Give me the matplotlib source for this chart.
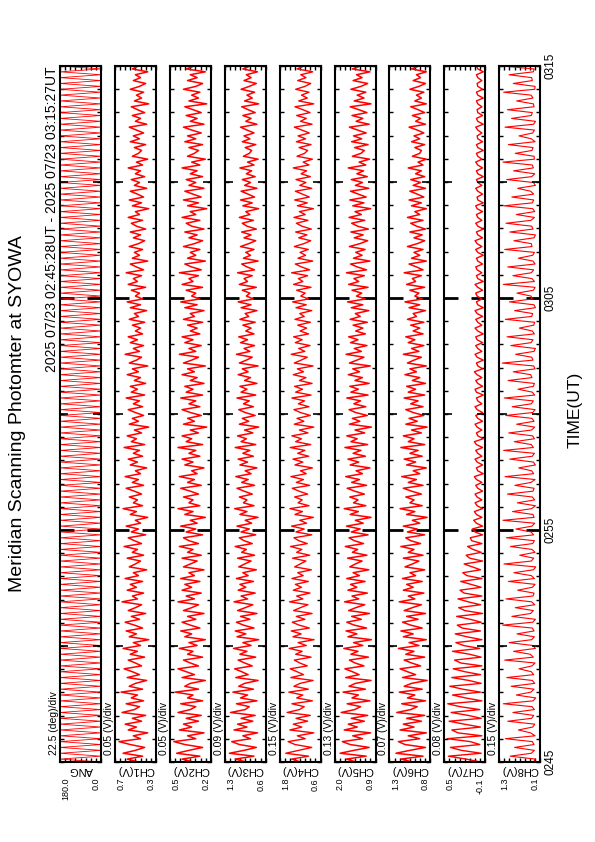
import numpy as np
import matplotlib
matplotlib.use("Agg")
import matplotlib.pyplot as plt
import matplotlib.transforms as mtransforms
from matplotlib.ticker import FixedLocator, MultipleLocator

plt.rcParams["font.family"] = ["Liberation Sans", "DejaVu Sans"]

# === data (minutes after 02:45 UT run along each panel) ===
panel_names = ["ANG", "CH1(V)", "CH2(V)", "CH3(V)", "CH4(V)", "CH5(V)", "CH6(V)", "CH7(V)", "CH8(V)"]
div_labels = ["22.5 (deg)/div", "0.05 (V)/div", "0.05 (V)/div", "0.09 (V)/div", "0.15 (V)/div",
              "0.13 (V)/div", "0.07 (V)/div", "0.08 (V)/div", "0.15 (V)/div"]
range_lo = ["0.0", "0.3", "0.2", "0.6", "0.6", "0.9", "0.8", "-0.1", "0.1"]
range_hi = ["180.0", "0.7", "0.5", "1.3", "1.8", "2.0", "1.3", "0.5", "1.3"]
time_labels = ["0245", "0255", "0305", "0315"]
time_ticks = [0, 10, 20, 30]

# scan angle: one sweep 0 -> 180 deg, repeated by the photometer
ang_scan = [0.0, 180.0]
n_scans = 120

ch1 = [0.47,0.58,0.43,0.62,0.50,0.41,0.55,0.66,0.45,0.52,0.38,0.57,0.49,0.60,0.44,0.53,0.40,0.63,0.51,0.46,0.59,0.42,0.54,0.48,0.64,0.43,0.56,0.50,0.39,0.58,
       0.46,0.53,0.61,0.44,0.50,0.57,0.41,0.55,0.48,0.62,0.45,0.52,0.37,0.56,0.49,0.59,0.43,0.51,0.60,0.46,0.54,0.40,0.57,0.50,0.44,0.63,0.48,0.53,0.42,0.58,
       0.49,0.55,0.43,0.60,0.47,0.52,0.39,0.56,0.50,0.45,0.58,0.42,0.53,0.48,0.61,0.44,0.51,0.57,0.40,0.54,0.47,0.59,0.45,0.50,0.38,0.55,0.49,0.62,0.43,0.52,
       0.48,0.56,0.44,0.51,0.59,0.42,0.53,0.47,0.60,0.45,0.50,0.39,0.55,0.48,0.57,0.43,0.52,0.46,0.61,0.41,0.54,0.49,0.58,0.44,0.51,0.37,0.56,0.47,0.53,0.42,
       0.50,0.57,0.43,0.52,0.46,0.59,0.41,0.54,0.48,0.55,0.40,0.51,0.45,0.58,0.47,0.53,0.38,0.56,0.49,0.44,0.60,0.46,0.52,0.42,0.55,0.48,0.57,0.43,0.50,0.45,
       0.53,0.41,0.56,0.47,0.51,0.39,0.55,0.45,0.58,0.43,0.50,0.46,0.54,0.40,0.57,0.48,0.52,0.44,0.59,0.42,0.49,0.55,0.38,0.53,0.46,0.51,0.43,0.56,0.47,0.41,
       0.52,0.45,0.55,0.40,0.49,0.54,0.43,0.57,0.46,0.50,0.37,0.53,0.44,0.56,0.42,0.48,0.55,0.39,0.51,0.46,0.54,0.41,0.50,0.45,0.57,0.43,0.49,0.38,0.53,0.47,
       0.44,0.51,0.40,0.55,0.46,0.52,0.42,0.49,0.56,0.39,0.50,0.45,0.53,0.41,0.48,0.54,0.37,0.51,0.44,0.49,0.42,0.55,0.46,0.40,0.52,0.45,0.50,0.38,0.53,0.47]
ch2 = [0.33,0.41,0.28,0.45,0.36,0.26,0.39,0.47,0.31,0.37,0.25,0.43,0.34,0.40,0.29,0.38,0.27,0.44,0.35,0.31,0.42,0.26,0.37,0.33,0.46,0.29,0.39,0.35,0.24,0.41,
       0.32,0.38,0.44,0.29,0.35,0.40,0.26,0.37,0.33,0.43,0.30,0.36,0.24,0.39,0.34,0.42,0.28,0.35,0.41,0.31,0.37,0.25,0.40,0.34,0.29,0.44,0.32,0.38,0.27,0.41,
       0.34,0.39,0.28,0.42,0.32,0.36,0.25,0.40,0.35,0.30,0.41,0.27,0.37,0.33,0.43,0.29,0.36,0.40,0.26,0.38,0.31,0.42,0.30,0.35,0.24,0.39,0.33,0.44,0.28,0.36,
       0.33,0.40,0.29,0.35,0.42,0.27,0.37,0.32,0.43,0.30,0.34,0.25,0.39,0.33,0.41,0.28,0.36,0.31,0.44,0.26,0.38,0.34,0.41,0.29,0.35,0.23,0.40,0.32,0.37,0.27,
       0.35,0.41,0.28,0.36,0.31,0.42,0.26,0.38,0.33,0.39,0.25,0.35,0.30,0.41,0.32,0.37,0.24,0.40,0.34,0.29,0.43,0.31,0.36,0.27,0.39,0.33,0.41,0.28,0.35,0.30,
       0.37,0.26,0.40,0.32,0.35,0.25,0.39,0.30,0.42,0.28,0.34,0.31,0.38,0.26,0.41,0.33,0.36,0.29,0.43,0.27,0.34,0.39,0.24,0.37,0.31,0.35,0.28,0.40,0.32,0.26,
       0.36,0.30,0.39,0.25,0.34,0.38,0.28,0.41,0.31,0.35,0.23,0.37,0.29,0.40,0.27,0.33,0.39,0.25,0.36,0.31,0.38,0.26,0.35,0.30,0.41,0.28,0.34,0.24,0.37,0.32,
       0.29,0.36,0.26,0.39,0.31,0.37,0.27,0.34,0.40,0.25,0.35,0.30,0.38,0.27,0.33,0.39,0.23,0.36,0.29,0.34,0.28,0.40,0.31,0.26,0.37,0.30,0.35,0.24,0.38,0.32]
ch3 = [0.93,1.12,0.80,1.22,0.97,0.76,1.05,1.18,0.86,0.99,0.74,1.14,0.92,1.08,0.82,1.02,0.78,1.20,0.95,0.88,1.10,0.75,1.03,0.91,1.16,0.81,1.06,0.96,0.73,1.11,
       0.90,1.01,1.13,0.83,0.96,1.07,0.77,1.04,0.92,1.15,0.85,0.99,0.72,1.09,0.94,1.12,0.80,0.98,1.10,0.87,1.03,0.75,1.08,0.95,0.82,1.14,0.91,1.02,0.78,1.07,
       0.94,1.04,0.81,1.10,0.90,0.99,0.76,1.06,0.96,0.85,1.08,0.79,1.01,0.93,1.12,0.83,0.97,1.05,0.77,1.02,0.88,1.09,0.84,0.95,0.73,1.04,0.92,1.13,0.80,0.98,
       0.92,1.05,0.83,0.97,1.09,0.79,1.01,0.90,1.11,0.85,0.95,0.75,1.04,0.91,1.07,0.81,0.99,0.87,1.12,0.77,1.02,0.93,1.08,0.82,0.96,0.72,1.05,0.89,1.00,0.78,
       0.95,1.06,0.81,0.98,0.88,1.09,0.77,1.02,0.92,1.04,0.75,0.96,0.86,1.07,0.90,1.00,0.73,1.05,0.93,0.83,1.10,0.87,0.97,0.79,1.03,0.91,1.06,0.80,0.94,0.85,
       0.99,0.78,1.04,0.89,0.95,0.75,1.02,0.85,1.07,0.81,0.93,0.87,1.00,0.76,1.05,0.91,0.97,0.83,1.08,0.79,0.92,1.01,0.73,0.98,0.86,0.94,0.80,1.03,0.89,0.77,
       0.97,0.85,1.01,0.76,0.92,1.00,0.81,1.05,0.87,0.94,0.72,0.99,0.83,1.03,0.79,0.90,1.02,0.75,0.96,0.86,1.00,0.78,0.93,0.84,1.04,0.80,0.91,0.73,0.98,0.88,
       0.84,0.95,0.77,1.00,0.87,0.97,0.80,0.92,1.03,0.75,0.94,0.85,0.99,0.78,0.90,1.01,0.72,0.96,0.83,0.92,0.79,1.02,0.88,0.76,0.97,0.85,0.93,0.74,0.99,0.86]
ch4 = [1.18,1.45,0.95,1.62,1.24,0.86,1.35,1.55,1.05,1.28,0.80,1.50,1.15,1.40,0.98,1.32,0.90,1.58,1.22,1.08,1.44,0.84,1.30,1.12,1.53,0.96,1.38,1.20,0.82,1.47,
       1.10,1.29,1.49,0.99,1.21,1.37,0.88,1.33,1.14,1.52,1.02,1.26,0.79,1.41,1.17,1.46,0.93,1.23,1.43,1.06,1.31,0.85,1.39,1.19,0.97,1.51,1.12,1.30,0.91,1.40,
       1.16,1.34,0.96,1.44,1.11,1.27,0.87,1.36,1.20,1.03,1.42,0.92,1.30,1.15,1.48,0.99,1.24,1.38,0.86,1.32,1.08,1.45,1.01,1.21,0.81,1.35,1.13,1.50,0.94,1.26,
       1.14,1.36,0.98,1.23,1.43,0.92,1.31,1.10,1.47,1.02,1.19,0.84,1.35,1.12,1.41,0.95,1.27,1.06,1.49,0.89,1.33,1.16,1.44,0.97,1.22,0.80,1.37,1.09,1.29,0.90,
       1.19,1.38,0.94,1.25,1.07,1.44,0.88,1.33,1.13,1.36,0.85,1.22,1.03,1.40,1.10,1.28,0.82,1.37,1.17,0.99,1.46,1.06,1.24,0.91,1.34,1.14,1.39,0.95,1.20,1.01,
       1.27,0.90,1.35,1.08,1.21,0.86,1.32,1.02,1.42,0.95,1.18,1.05,1.30,0.88,1.39,1.12,1.25,0.98,1.45,0.92,1.16,1.34,0.83,1.26,1.04,1.20,0.96,1.37,1.09,0.89,
       1.24,1.00,1.33,0.87,1.15,1.31,0.97,1.38,1.05,1.22,0.81,1.28,0.99,1.36,0.93,1.13,1.34,0.86,1.21,1.03,1.32,0.90,1.17,1.01,1.40,0.94,1.11,0.84,1.29,1.07,
       0.98,1.23,0.88,1.31,1.04,1.26,0.93,1.15,1.37,0.85,1.19,1.02,1.30,0.91,1.12,1.35,0.80,1.24,0.99,1.16,0.94,1.33,1.06,0.89,1.27,1.03,1.18,0.83,1.29,1.08]
ch5 = [1.42,1.68,1.15,1.85,1.48,1.07,1.58,1.79,1.25,1.51,1.03,1.74,1.39,1.63,1.20,1.55,1.11,1.82,1.46,1.30,1.66,1.05,1.53,1.36,1.77,1.17,1.61,1.44,1.02,1.70,
       1.34,1.52,1.72,1.21,1.45,1.60,1.09,1.56,1.37,1.75,1.24,1.49,1.01,1.64,1.40,1.69,1.14,1.47,1.67,1.28,1.54,1.06,1.62,1.43,1.19,1.73,1.35,1.53,1.12,1.64,
       1.40,1.57,1.18,1.67,1.33,1.50,1.08,1.59,1.44,1.26,1.65,1.13,1.52,1.38,1.71,1.22,1.47,1.61,1.10,1.55,1.31,1.68,1.23,1.44,1.02,1.58,1.36,1.74,1.16,1.49,
       1.37,1.59,1.20,1.46,1.66,1.14,1.54,1.33,1.70,1.25,1.42,1.05,1.58,1.35,1.64,1.17,1.50,1.29,1.72,1.11,1.56,1.39,1.67,1.19,1.45,1.01,1.60,1.32,1.52,1.12,
       1.43,1.61,1.16,1.48,1.30,1.67,1.10,1.56,1.36,1.59,1.07,1.45,1.25,1.63,1.33,1.51,1.04,1.60,1.40,1.21,1.69,1.28,1.47,1.13,1.57,1.37,1.62,1.17,1.43,1.24,
       1.50,1.12,1.58,1.31,1.44,1.08,1.55,1.24,1.65,1.17,1.41,1.27,1.53,1.10,1.62,1.35,1.48,1.20,1.68,1.14,1.39,1.57,1.05,1.49,1.26,1.43,1.18,1.60,1.32,1.11,
       1.47,1.23,1.56,1.09,1.38,1.54,1.19,1.61,1.28,1.45,1.03,1.51,1.21,1.59,1.15,1.36,1.57,1.08,1.44,1.25,1.55,1.12,1.40,1.22,1.63,1.16,1.34,1.06,1.52,1.29,
       1.20,1.46,1.10,1.54,1.27,1.49,1.15,1.38,1.60,1.07,1.42,1.24,1.53,1.13,1.35,1.58,1.02,1.47,1.21,1.39,1.16,1.56,1.29,1.11,1.50,1.26,1.41,1.05,1.52,1.30]
ch6 = [1.02,1.16,0.89,1.22,1.05,0.86,1.11,1.19,0.93,1.07,0.85,1.17,1.00,1.13,0.91,1.09,0.87,1.21,1.04,0.96,1.15,0.86,1.08,0.99,1.18,0.90,1.12,1.03,0.84,1.14,
       0.98,1.08,1.17,0.92,1.03,1.12,0.87,1.10,1.00,1.19,0.94,1.06,0.85,1.13,1.01,1.16,0.90,1.04,1.14,0.95,1.09,0.86,1.12,1.02,0.91,1.18,0.99,1.07,0.88,1.13,
       1.01,1.09,0.90,1.14,0.98,1.05,0.87,1.11,1.02,0.94,1.13,0.89,1.07,1.00,1.16,0.92,1.04,1.10,0.87,1.08,0.96,1.13,0.93,1.02,0.84,1.09,0.99,1.17,0.90,1.05,
       1.00,1.10,0.91,1.03,1.13,0.89,1.07,0.97,1.15,0.93,1.01,0.85,1.09,0.98,1.12,0.90,1.05,0.95,1.16,0.87,1.07,1.00,1.13,0.91,1.03,0.84,1.10,0.96,1.06,0.88,
       1.01,1.10,0.89,1.04,0.95,1.12,0.87,1.07,0.98,1.09,0.86,1.02,0.93,1.11,0.97,1.05,0.85,1.08,1.00,0.91,1.13,0.94,1.03,0.88,1.07,0.99,1.10,0.89,1.01,0.93,
       1.04,0.88,1.08,0.97,1.01,0.86,1.06,0.93,1.11,0.90,0.99,0.94,1.05,0.87,1.09,0.98,1.02,0.91,1.12,0.89,0.97,1.06,0.85,1.03,0.93,1.00,0.89,1.08,0.96,0.87,
       1.00,0.90,1.05,0.86,0.97,1.04,0.89,1.08,0.93,0.99,0.85,1.03,0.91,1.06,0.88,0.96,1.05,0.86,1.01,0.92,1.04,0.87,0.98,0.91,1.07,0.89,0.95,0.85,1.02,0.93,
       0.91,0.99,0.87,1.03,0.93,1.00,0.88,0.96,1.06,0.86,0.98,0.92,1.02,0.87,0.95,1.04,0.85,0.99,0.91,0.97,0.88,1.05,0.94,0.86,1.01,0.92,0.97,0.85,1.03,0.94]
ch7 = [-0.03,0.18,0.44,-0.04,0.25,0.41,-0.02,0.12,0.46,-0.05,0.30,0.39,-0.03,0.21,0.43,-0.04,0.15,0.40,-0.02,0.27,0.45,-0.05,0.19,0.38,-0.03,0.23,0.42,-0.04,0.14,0.39,
       -0.03,0.20,0.37,-0.05,0.26,0.35,-0.04,0.13,0.38,-0.02,0.22,0.33,-0.05,0.17,0.34,-0.03,0.24,0.31,-0.04,0.12,0.32,-0.06,0.20,0.29,-0.03,0.15,0.30,-0.05,0.21,0.27,
       -0.04,0.11,0.26,-0.05,0.17,0.23,-0.03,0.09,0.21,-0.06,0.13,0.18,-0.04,0.08,0.16,-0.05,0.10,0.12,-0.06,0.05,0.09,-0.06,0.03,0.07,-0.05,0.03,0.06,-0.06,0.02,0.05,
       -0.05,0.02,0.05,-0.06,0.01,0.04,-0.05,0.03,0.06,-0.07,0.01,0.03,-0.06,0.02,0.05,-0.05,0.01,0.04,-0.06,0.03,0.06,-0.07,0.01,0.03,-0.05,0.02,0.05,-0.06,0.01,0.04,
       -0.06,0.02,0.05,-0.05,0.01,0.03,-0.07,0.03,0.05,-0.06,0.01,0.04,-0.05,0.02,0.06,-0.06,0.01,0.03,-0.07,0.02,0.05,-0.05,0.01,0.04,-0.06,0.02,0.04,-0.07,0.01,0.05,
       -0.05,0.01,0.04,-0.06,0.02,0.05,-0.07,0.01,0.03,-0.05,0.02,0.04,-0.06,0.01,0.05,-0.07,0.01,0.03,-0.05,0.02,0.04,-0.06,0.01,0.03,-0.07,0.01,0.04,-0.05,0.02,0.05,
       -0.06,0.01,0.03,-0.07,0.01,0.04,-0.05,0.01,0.03,-0.06,0.02,0.04,-0.07,0.01,0.02,-0.06,0.01,0.04,-0.05,0.01,0.03,-0.07,0.01,0.03,-0.06,0.01,0.04,-0.05,0.01,0.03,
       -0.07,0.01,0.03,-0.06,0.01,0.02,-0.05,0.01,0.04,-0.07,0.01,0.03,-0.06,0.01,0.02,-0.05,0.01,0.03,-0.07,0.01,0.03,-0.06,0.01,0.02,-0.05,0.01,0.03,-0.07,0.01,0.03]
ch8 = [0.30,0.24,0.98, 0.36,0.27,0.85, 0.28,0.33,1.12, 0.25,0.38,0.74, 0.32,0.26,1.05, 0.35,0.29,0.90, 0.27,0.34,1.18, 0.31,0.23,0.80, 0.37,0.28,0.95, 0.26,0.33,1.08,
       0.29,0.36,0.72, 0.34,0.25,1.14, 0.30,0.39,0.88, 0.24,0.31,1.01, 0.35,0.27,0.78, 0.28,0.33,1.20, 0.32,0.24,0.93, 0.38,0.30,0.83, 0.26,0.35,1.10, 0.31,0.28,0.76,
       0.33,0.25,1.03, 0.27,0.36,0.87, 0.30,0.23,1.16, 0.36,0.29,0.70, 0.25,0.34,0.97, 0.32,0.27,1.09, 0.29,0.37,0.81, 0.34,0.26,1.19, 0.28,0.31,0.91, 0.35,0.24,0.77,
       0.26,0.33,1.06, 0.31,0.28,0.84, 0.37,0.25,1.13, 0.29,0.35,0.73, 0.24,0.30,0.99, 0.33,0.27,1.17, 0.30,0.36,0.86, 0.27,0.32,1.02, 0.35,0.26,0.79, 0.28,0.34,1.11,
       0.32,0.25,0.92, 0.36,0.30,1.15, 0.26,0.33,0.75, 0.30,0.27,1.04, 0.34,0.38,0.89, 0.25,0.29,1.21, 0.31,0.35,0.82, 0.28,0.24,0.96, 0.37,0.31,1.07, 0.27,0.33,0.71,
       0.29,0.26,1.12, 0.35,0.32,0.85, 0.24,0.28,1.00, 0.33,0.37,0.78, 0.30,0.25,1.18, 0.27,0.34,0.90, 0.36,0.29,1.05, 0.25,0.31,0.74, 0.32,0.27,1.14, 0.34,0.36,0.87,
       0.28,0.24,0.99, 0.31,0.35,1.10, 0.37,0.27,0.80, 0.26,0.32,1.16, 0.33,0.29,0.93, 0.29,0.38,0.76, 0.24,0.30,1.08, 0.35,0.26,0.88, 0.30,0.33,1.19, 0.27,0.28,0.83,
       0.34,0.31,1.03, 0.25,0.36,0.72, 0.32,0.27,1.13, 0.29,0.24,0.94, 0.36,0.33,1.06, 0.28,0.30,0.79, 0.31,0.37,1.17, 0.26,0.25,0.89, 0.33,0.35,1.01, 0.30,0.28,1.22]

series = [np.tile(ang_scan, n_scans), ch1, ch2, ch3, ch4, ch5, ch6, ch7, ch8]
line_w = [0.6, 1.1, 1.1, 1.1, 1.0, 1.1, 1.1, 1.0, 0.8]

# === layout (pixels of the 595x842 page) ===
W, H = 595, 842
fig = plt.figure(figsize=(W / 100, H / 100), dpi=100)
top_px, bot_px = 66, 762
pitch, width = 54.9, 41

for i, vals in enumerate(series):
    left = 60 + pitch * i
    ax = fig.add_axes([left / W, 1 - bot_px / H, width / W, (bot_px - top_px) / H])
    t = np.linspace(0, 30, len(vals))
    lo, hi = float(range_lo[i]), float(range_hi[i])
    ax.plot(vals, t, color="red", lw=line_w[i])
    ax.set_xlim(hi, lo)
    ax.set_ylim(0, 30)

    # 5-minute ticks on a twin so they get their own length
    ax2 = ax.twinx()
    ax2.set_ylim(0, 30)
    ax2.yaxis.set_major_locator(FixedLocator([5, 15, 25]))
    ax2.tick_params(axis="y", which="major", left=True, right=True, labelleft=False,
                    labelright=False, direction="in", length=6, width=1.2)
    for sp in ax2.spines.values():
        sp.set_visible(False)

    ax.xaxis.set_major_locator(FixedLocator(np.linspace(lo, hi, 9)))
    ax.yaxis.set_major_locator(FixedLocator([10, 20]))
    ax.yaxis.set_minor_locator(MultipleLocator(1))
    ax.tick_params(axis="x", which="major", top=True, bottom=True, labelbottom=False,
                   direction="in", length=3, width=1)
    ax.tick_params(axis="y", which="major", left=True, right=True, labelleft=False,
                   direction="in", length=10, width=2)
    ax.tick_params(axis="y", which="minor", left=True, right=True, direction="in",
                   length=3, width=1)
    for sp in ax.spines.values():
        sp.set_linewidth(1.5)

    cx = (left + width / 2) / W
    fig.text(cx, 1 - 765 / H, panel_names[i], rotation=180, ha="center", va="top", fontsize=8)
    fig.text((left + 6) / W, 1 - 778 / H, range_hi[i], rotation=90, ha="center", va="top", fontsize=6.5)
    fig.text((left + width - 5) / W, 1 - 778 / H, range_lo[i], rotation=90, ha="center", va="top", fontsize=6.5)
    fig.text((left - 6) / W, 1 - 755 / H, div_labels[i], rotation=90, ha="center", va="bottom", fontsize=7.5)
    last_ax = ax

trans = mtransforms.blended_transform_factory(fig.transFigure, last_ax.transData)
for tt, lab in zip(time_ticks, time_labels):
    fig.text(551 / W, tt, lab, transform=trans, rotation=90, ha="center", va="center", fontsize=8.5)

fig.text(575 / W, 1 - 410 / H, "TIME(UT)", rotation=90, ha="center", va="center", fontsize=12.5)
fig.text(18 / W, 1 - 414 / H, "Meridian Scanning Photomter at SYOWA", rotation=90,
         ha="center", va="center", fontsize=14)
fig.text(52 / W, 1 - 66 / H, "2025 07/23 02:45:28UT - 2025 07/23 03:15:27UT", rotation=90,
         ha="center", va="top", fontsize=10)

fig.savefig("out.png", dpi=100)
